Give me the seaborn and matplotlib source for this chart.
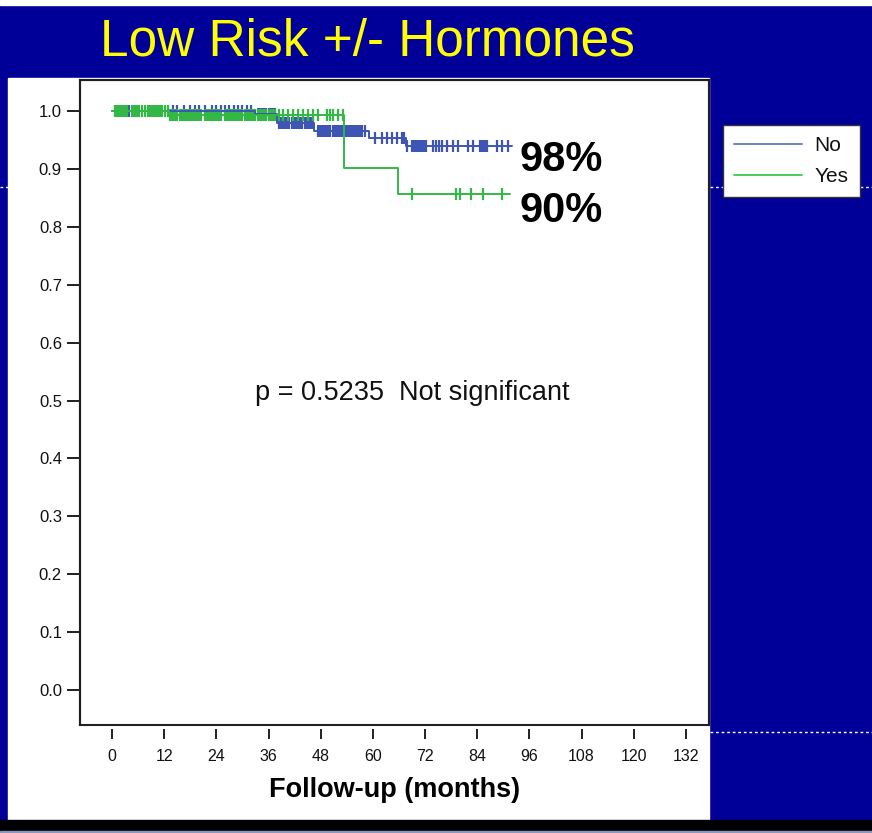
import numpy as np
import pandas as pd
import matplotlib
matplotlib.use("Agg")
import matplotlib.pyplot as plt
from matplotlib.lines import Line2D
from matplotlib.patches import Rectangle
import seaborn as sns

# Curvas de sobrevida (tempo em meses, fração sem evento)
no_times = [0, 33, 38, 46.5, 59, 67.5, 92]
no_surv = [1.0, 0.995, 0.980, 0.965, 0.954, 0.940, 0.940]
yes_times = [0, 13, 53.4, 65.7, 91.5]
yes_surv = [1.0, 0.993, 0.901, 0.856, 0.856]

# Tempos censurados (marcas verticais)
no_censor = [2, 4, 6, 9, 11, 14, 15, 16.5, 18, 19, 20, 21.5, 23, 24, 25, 26, 27, 28, 29, 30,
             31, 32, 33.5, 34, 34.5, 35, 35.5, 36, 36.5, 37, 37.5,
             38.3, 38.8, 39.3, 39.8, 40.3, 40.8, 41.3, 41.8, 42.3, 42.8, 43.3, 43.8, 44.3,
             44.8, 45.3, 45.8, 46.2,
             47.4, 47.8, 48.2, 48.6, 49.0, 49.4, 49.8, 50.1, 50.8, 51.2, 51.6, 52.0, 52.4,
             52.8, 53.2, 53.6, 54.0, 54.4, 54.8, 55.2, 55.6, 56.0, 56.4, 56.8, 57.2, 57.5, 58.2,
             60.5, 62, 63.2, 64.4, 65.5, 66.7, 67.2,
             67.9, 69, 69.4, 69.8, 70.2, 70.6, 71, 71.4, 71.8, 72.2, 73.8, 74.5, 75.2, 76, 77,
             78.4, 79.5, 81.8, 83, 84.6, 85.0, 85.4, 85.8, 86.2, 88.5, 89.7, 91]
yes_censor = [0.7, 1.1, 1.5, 1.9, 2.3, 2.7, 3.1, 3.5, 4.6, 5.0, 5.4, 5.8, 6.2, 6.9, 7.6, 8.3,
              8.7, 9.1, 9.5, 9.9, 10.3, 10.7, 11.1, 11.5, 12.2, 12.9, 13.3, 13.7, 14.1, 14.5,
              14.9, 15.6, 16, 16.4, 16.8, 17.2, 17.6, 18, 18.4, 18.8, 19.2, 19.6, 20, 20.4,
              21.4, 21.8, 22.2, 22.6, 23, 23.4, 23.8, 24.2, 24.6, 25, 26, 26.4, 26.8, 27.2,
              27.6, 28, 28.5, 29, 29.5, 30, 30.5, 31, 31.5, 32, 32.5, 33, 33.5, 34, 34.5, 35,
              35.5, 36, 36.5, 37, 37.5, 38.3, 39.3, 40.5, 41.6, 42.8, 43.9, 45.1, 46.2, 47.4,
              49.4, 50.1, 50.8, 52, 53.1, 68.9, 79, 80, 82.5, 85.3, 89.7]

x_ticks = [0, 12, 24, 36, 48, 60, 72, 84, 96, 108, 120, 132]
y_ticks = [0.0, 0.1, 0.2, 0.3, 0.4, 0.5, 0.6, 0.7, 0.8, 0.9, 1.0]
grupos = ["No", "Yes"]
cores = {"No": "#3f55b3", "Yes": "#33b845"}
cores_leg = {"No": "#5b78c8", "Yes": "#3cc94f"}

sns.set_theme(style="white")
plt.rcParams["font.family"] = ["Liberation Sans", "DejaVu Sans"]

azul = "#000099"
fig = plt.figure(figsize=(8.72, 8.33), dpi=100, facecolor=azul)
W, H = 872, 833

def fx(px):
    return px / W

def fy(py):
    return 1 - py / H

# painel branco, barra preta embaixo, faixa branca no topo
fig.patches.append(Rectangle((fx(8), fy(820)), fx(709) - fx(8), fy(78) - fy(820),
                             transform=fig.transFigure, color="white", zorder=-2))
fig.patches.append(Rectangle((0, fy(831)), 1, fy(820) - fy(831),
                             transform=fig.transFigure, color="black", zorder=-2))
fig.patches.append(Rectangle((0, 0), 1, fy(831), transform=fig.transFigure,
                             color="#8a98bf", zorder=-2))
fig.patches.append(Rectangle((0, fy(5)), 1, 1 - fy(5), transform=fig.transFigure,
                             color="white", zorder=-2))
for py, x0, x1 in [(187, 710, 872), (732, 710, 872), (187, 0, 8)]:
    fig.lines.append(Line2D([fx(x0), fx(x1)], [fy(py), fy(py)], transform=fig.transFigure,
                            color="white", lw=1, ls=(0, (2, 2)), zorder=-1))

ax = fig.add_axes([fx(80), fy(725), fx(709) - fx(80), fy(80) - fy(725)])
ax.set_facecolor("white")

curvas = pd.concat([
    pd.DataFrame({"tempo": no_times, "surv": no_surv, "grupo": "No"}),
    pd.DataFrame({"tempo": yes_times, "surv": yes_surv, "grupo": "Yes"}),
])
censuras = []
for g, tt, ss, cc in [("No", no_times, no_surv, no_censor), ("Yes", yes_times, yes_surv, yes_censor)]:
    idx = np.searchsorted(tt, cc, side="right") - 1
    censuras.append(pd.DataFrame({"tempo": cc, "surv": np.array(ss)[idx], "grupo": g}))
censuras = pd.concat(censuras)

for g in grupos:
    sub = curvas[curvas.grupo == g]
    sns.lineplot(data=sub, x="tempo", y="surv", color=cores[g], drawstyle="steps-post",
                 estimator=None, lw=1.4, ax=ax, legend=False)
    subc = censuras[censuras.grupo == g]
    sns.scatterplot(data=subc, x="tempo", y="surv", marker="|", s=80, linewidth=1.6,
                    color=cores[g], ax=ax, legend=False)

ax.set_xlim(-7.36, 137.3)
ax.set_ylim(-0.0604, 1.0535)
ax.set_xticks(x_ticks)
ax.set_xticklabels([str(t) for t in x_ticks])
ax.set_yticks(y_ticks)
ax.set_yticklabels([f"{t:.1f}" for t in y_ticks])
ax.tick_params(axis="x", bottom=True, length=7.5, width=1.4, color="#202020",
               labelsize=11.5, pad=7, labelcolor="#111111")
ax.tick_params(axis="y", left=True, length=9.5, width=1.4, color="#202020",
               labelsize=12, pad=3.5, labelcolor="#111111")

for s in ax.spines.values():
    s.set_color("#202020")
    s.set_linewidth(1.5)
ax.spines["bottom"].set_position(("outward", 3))
ax.spines["bottom"].set_visible(False)
ax.add_patch(Rectangle((0, 0), 1, 1, transform=ax.transAxes, fill=False,
                       ec="#202020", lw=1.5, clip_on=False, zorder=5))

ax.set_xlabel("Follow-up (months)", fontsize=19.5, fontweight="bold", labelpad=9,
              color="black")
ax.set_ylabel("")

ax.text(93.8, 0.915, "98%", fontsize=30, fontweight="bold", ha="left", va="center",
        color="black")
ax.text(93.8, 0.827, "90%", fontsize=30, fontweight="bold", ha="left", va="center",
        color="black")
ax.text(32.9, 0.513, "p = 0.5235  Not significant", fontsize=19.5, ha="left", va="center",
        color="#111111")

fig.text(fx(100), fy(42), "Low Risk +/- Hormones", fontsize=37, color="#ffff00",
         ha="left", va="center")

handles = [Line2D([], [], color=cores_leg[g], lw=1.3) for g in grupos]
leg = fig.legend(handles, grupos, loc="upper left", bbox_to_anchor=(fx(723), fy(125)),
                 fontsize=15, frameon=True, fancybox=False, handlelength=3.25,
                 borderpad=0.55, labelspacing=0.55, handletextpad=0.6, borderaxespad=0)
leg.get_frame().set_facecolor("white")
leg.get_frame().set_edgecolor("#333333")
leg.get_frame().set_linewidth(1)
leg.get_frame().set_alpha(1)
for t in leg.get_texts():
    t.set_color("#111111")

fig.savefig("out.png", dpi=100, facecolor=azul)
